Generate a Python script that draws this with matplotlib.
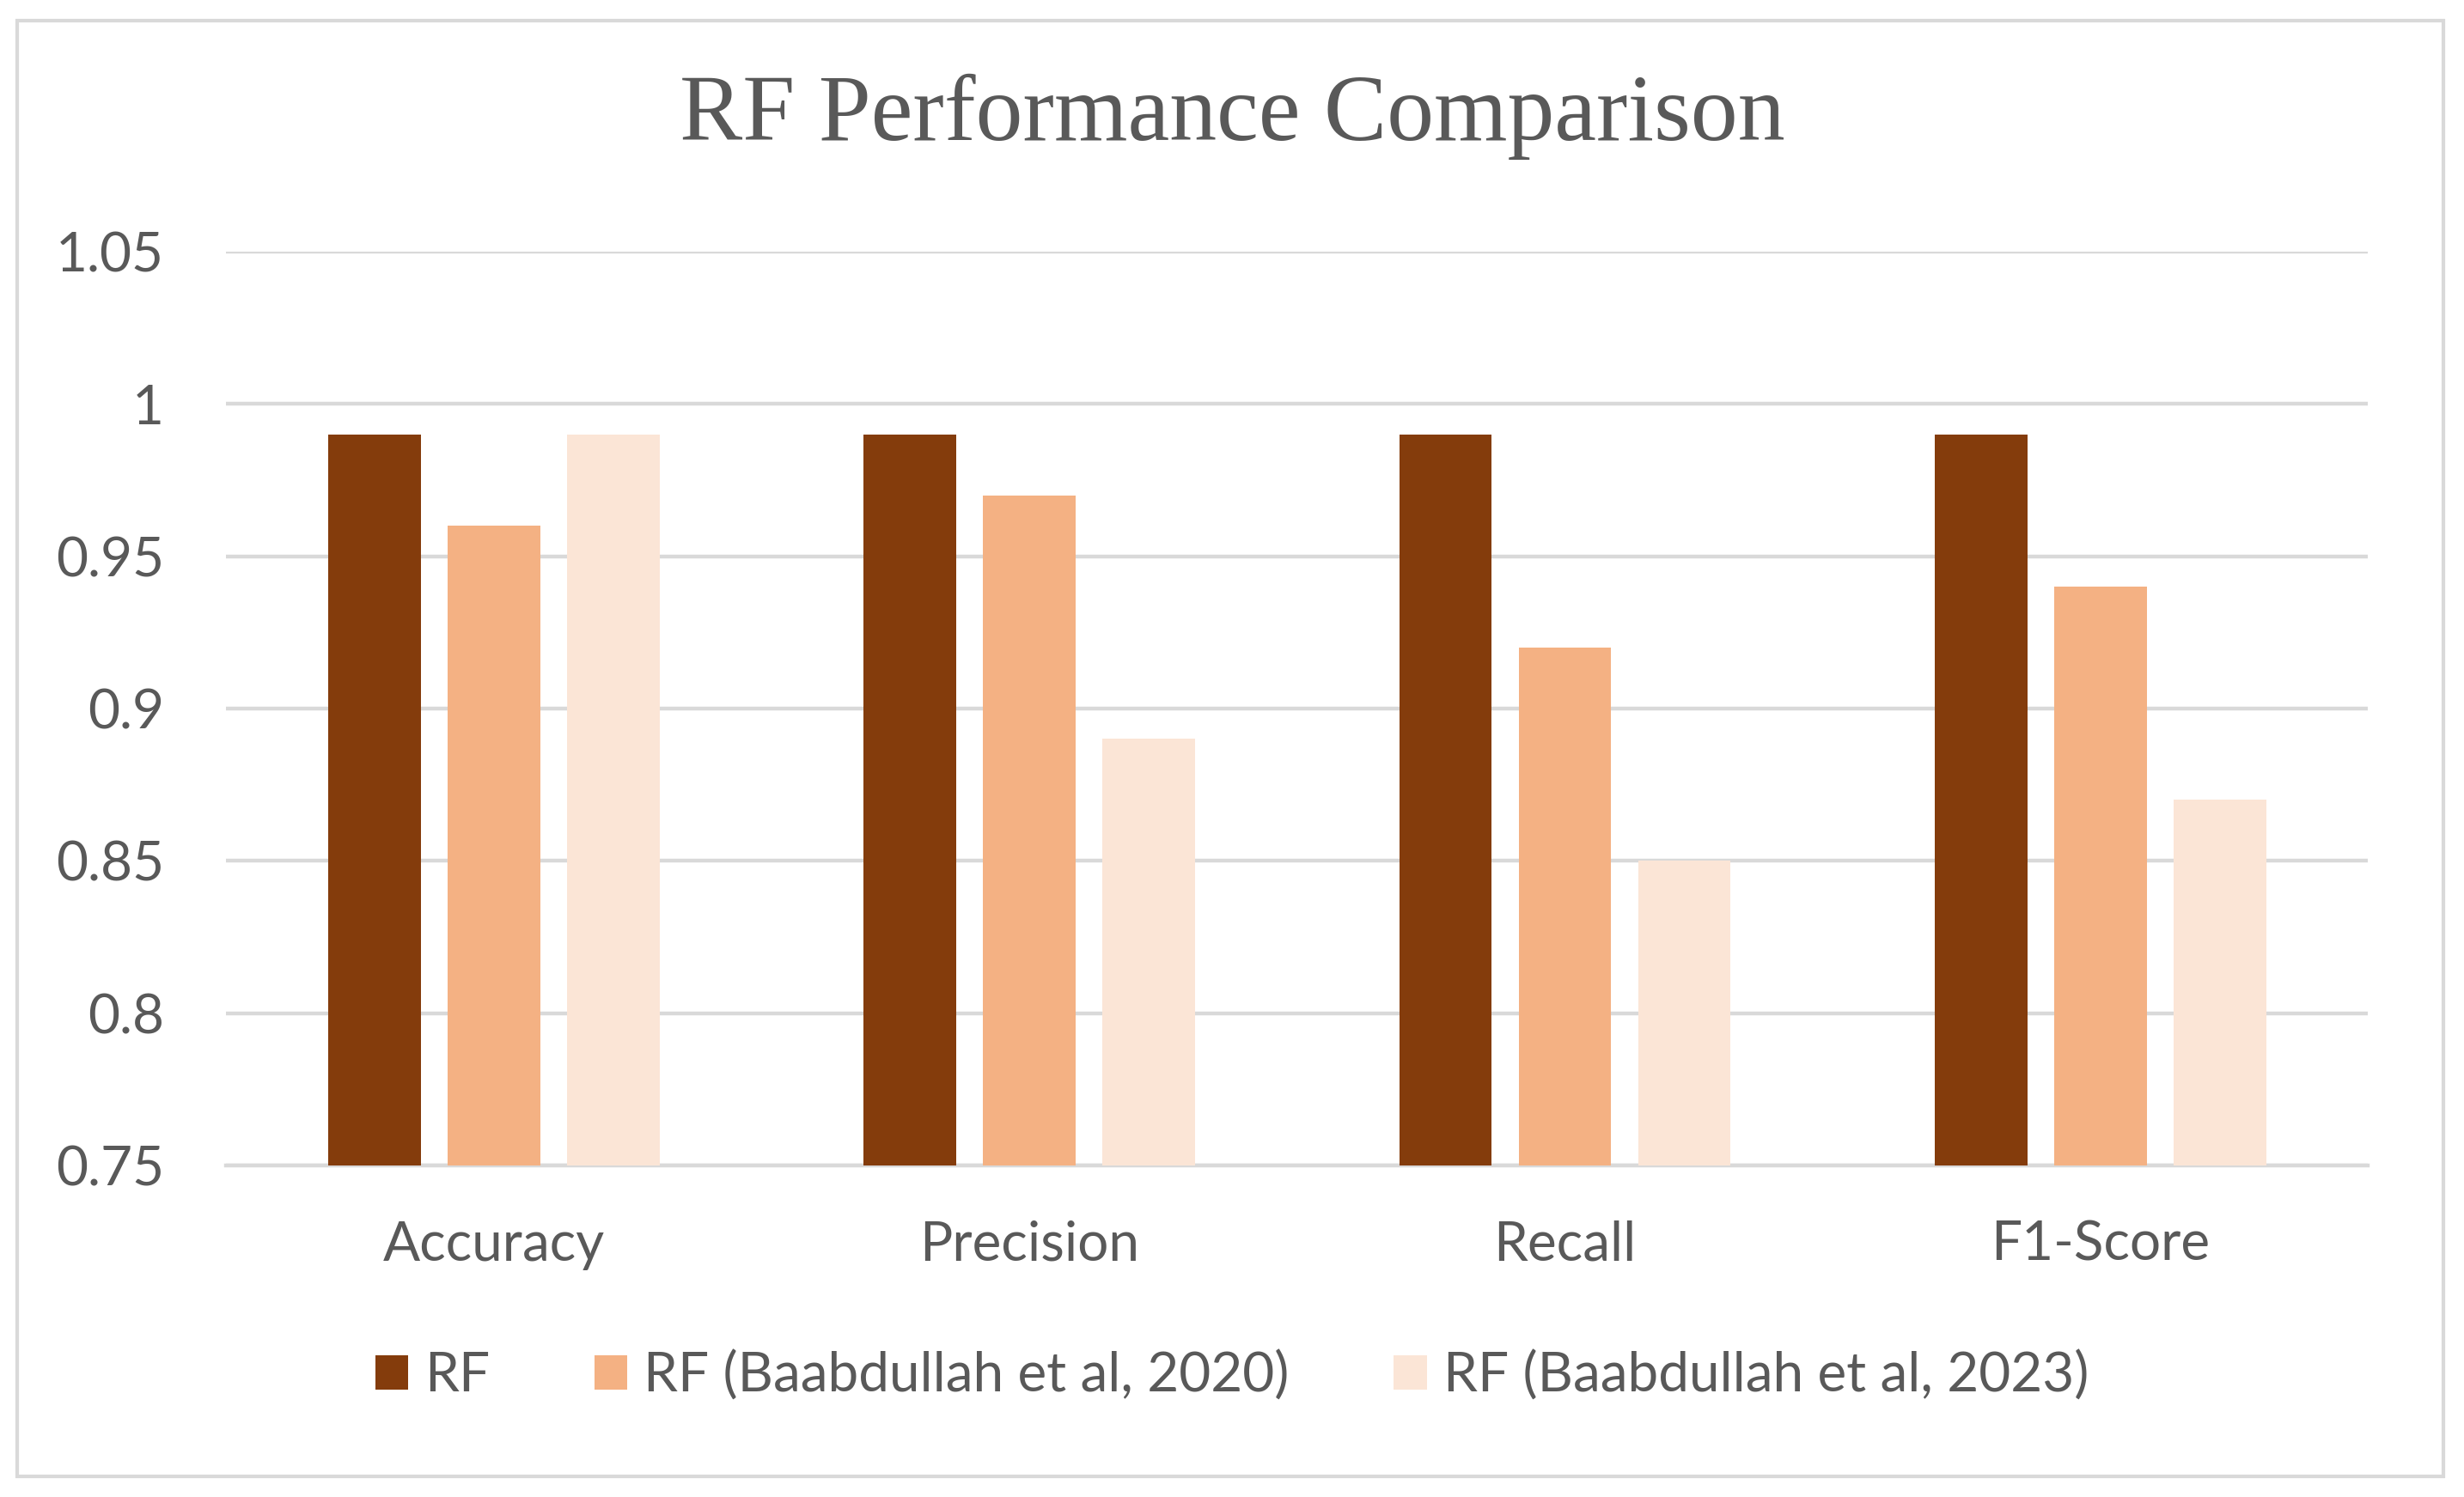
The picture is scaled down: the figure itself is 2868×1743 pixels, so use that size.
import matplotlib
matplotlib.use("Agg")
import matplotlib.pyplot as plt
import numpy as np
from matplotlib.patches import Rectangle

# data
categories = ["Accuracy", "Precision", "Recall", "F1-Score"]
series_names = ["RF", "RF (Baabdullah et al, 2020)", "RF (Baabdullah et al, 2023)"]
rf = [0.99, 0.99, 0.99, 0.99]
rf_2020 = [0.96, 0.97, 0.92, 0.94]
rf_2023 = [0.99, 0.89, 0.85, 0.87]
yticks = [0.75, 0.8, 0.85, 0.9, 0.95, 1.0, 1.05]
ytick_labels = ["0.75", "0.8", "0.85", "0.9", "0.95", "1", "1.05"]

colors = ["#843C0C", "#F4B183", "#FBE5D6"]
TEXT = "#595959"
GRID = "#D9D9D9"
SANS = ["Lato", "DejaVu Sans"]
FS = 23

fig = plt.figure(figsize=(14.34, 8.715), dpi=200)
ax = fig.add_axes([0.0918, 0.2214, 0.8693, 0.6106])

x = np.arange(len(categories))
width = 0.173
step = 0.223
for i, (vals, name, c) in enumerate(zip([rf, rf_2020, rf_2023], series_names, colors)):
    ax.bar(x + (i - 1) * step, vals, width=width, color=c, label=name, zorder=3)

ax.set_xlim(-0.5, len(categories) - 0.5)
ax.set_ylim(0.75, 1.05)
ax.set_yticks(yticks)
ax.set_yticklabels(ytick_labels, family=SANS, fontsize=FS, color=TEXT)
ax.set_xticks(x)
ax.set_xticklabels(categories, family=SANS, fontsize=FS, color=TEXT)
ax.tick_params(axis="both", length=0)
ax.tick_params(axis="x", pad=23)
ax.tick_params(axis="y", pad=26)
ax.grid(axis="y", color=GRID, linewidth=1.6, zorder=0)
for s in ["top", "right", "left"]:
    ax.spines[s].set_visible(False)
ax.spines["bottom"].set_color(GRID)
ax.spines["bottom"].set_linewidth(1.6)

fig.text(0.5, 0.922, "RF Performance Comparison", ha="center", va="center",
         family=["Liberation Serif", "DejaVu Serif"], fontsize=39.5, color=TEXT)

leg = fig.legend(loc="center", bbox_to_anchor=(0.5, 0.081), ncol=3, frameon=False,
                 prop={"family": SANS, "size": FS}, handlelength=0.6, handleheight=0.6,
                 handletextpad=0.3, columnspacing=1.9)
for t in leg.get_texts():
    t.set_color(TEXT)

# outer chart border
fig.add_artist(Rectangle((0.007, 0.0136), 0.9847, 0.9728, transform=fig.transFigure,
                         fill=False, edgecolor=GRID, linewidth=1.5))

fig.savefig("out.png", dpi=200)
